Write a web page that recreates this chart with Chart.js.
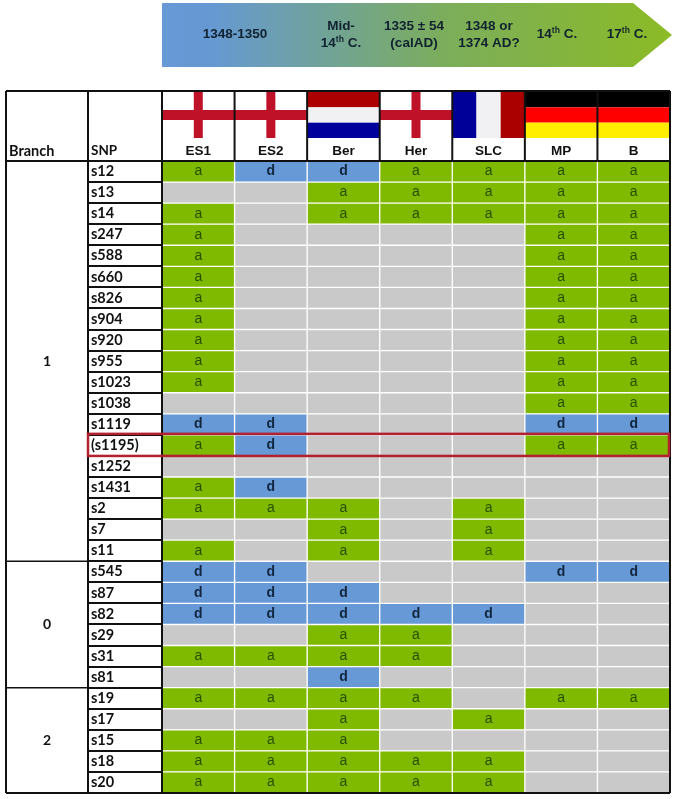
<!DOCTYPE html>
<html>
<head>
<meta charset="utf-8">
<title>SNP table</title>
<script src="https://cdn.jsdelivr.net/npm/chart.js@4"></script>
<style>
  html, body { margin: 0; padding: 0; background: #fff; }
  canvas { display: block; }
</style>
</head>
<body>
<canvas id="snpChart" width="674" height="799"></canvas>
<script>
// Rows and columns of the table
const snps = ['s12','s13','s14','s247','s588','s660','s826','s904','s920','s955','s1023','s1038','s1119','(s1195)','s1252','s1431','s2','s7','s11',
              's545','s87','s82','s29','s31','s81',
              's19','s17','s15','s18','s20'];
const sites = ['ES1','ES2','Ber','Her','SLC','MP','B'];
const branchNames = ['1','0','2'];
const branchSizes = [19, 6, 5];
const highlightedSnp = '(s1195)';

// a = ancestral, d = derived, '' = no call
const es1 = ['a','','a','a','a','a','a','a','a','a','a','','d','a','','a','a','','a', 'd','d','d','','a','', 'a','','a','a','a'];
const es2 = ['d','','','','','','','','','','','','d','d','','d','a','','', 'd','d','d','','a','', 'a','','a','a','a'];
const ber = ['d','a','a','','','','','','','','','','','','','','a','a','a', '','d','d','a','a','d', 'a','a','a','a','a'];
const her = ['a','a','a','','','','','','','','','','','','','','','','', '','','d','a','a','', 'a','','','a','a'];
const slc = ['a','a','a','','','','','','','','','','','','','','a','a','a', '','','d','','','', '','a','','a','a'];
const mp  = ['a','a','a','a','a','a','a','a','a','a','a','a','d','a','','','','','', 'd','','','','','', 'a','','','',''];
const b   = ['a','a','a','a','a','a','a','a','a','a','a','a','d','a','','','','','', 'd','','','','','', 'a','','','',''];
const siteCalls = [es1, es2, ber, her, slc, mp, b];

const siteFlags = ['en','en','nl','en','fr','de','de'];
const eraLabels = [['1348-1350'], ['Mid-','14|th| C.'], ['1335 ± 54','(calAD)'], ['1348 or','1374 AD?'], ['14|th| C.'], ['17|th| C.']];

const eraCenters = [235, 341, 414, 489, 557, 627];
const callColors = { a: '#7fba00', d: '#6699d6', '': '#c9c9c9' };
const labelFont = 'Liberation Sans, Arial, sans-serif';
const tableFont = 'Lato, Carlito, sans-serif';

function drawEraText(ctx, text, cx, y) {
  // pieces split by | : the middle one is a superscript
  const parts = text.split('|');
  const big = 'bold 13.5px ' + labelFont, small = 'bold 8.5px ' + labelFont;
  ctx.font = big;
  let w = ctx.measureText(parts[0]).width;
  if (parts.length > 1) {
    w += ctx.measureText(parts[2]).width;
    ctx.font = small;
    w += ctx.measureText(parts[1]).width;
  }
  let x = cx - w / 2;
  ctx.textAlign = 'left';
  ctx.textBaseline = 'middle';
  ctx.fillStyle = '#10222f';
  ctx.font = big;
  ctx.fillText(parts[0], x, y);
  if (parts.length > 1) {
    x += ctx.measureText(parts[0]).width;
    ctx.font = small;
    ctx.fillText(parts[1], x, y - 3.5);
    x += ctx.measureText(parts[1]).width;
    ctx.font = big;
    ctx.fillText(parts[2], x, y);
  }
}

function drawFlag(ctx, kind, x, y, w, h) {
  const band3 = (c1, c2, c3) => {
    ctx.fillStyle = c1; ctx.fillRect(x, y, w, h / 3);
    ctx.fillStyle = c2; ctx.fillRect(x, y + h / 3, w, h / 3);
    ctx.fillStyle = c3; ctx.fillRect(x, y + 2 * h / 3, w, h / 3);
  };
  if (kind === 'en') {
    ctx.fillStyle = '#bf1229';
    ctx.fillRect(x, y + 18, w, 10);
    ctx.fillRect(x + w / 2 - 4.5, y, 9, h);
  } else if (kind === 'nl') {
    band3('#ad0000', '#f1f1f3', '#00009c');
  } else if (kind === 'de') {
    band3('#000000', '#ff0000', '#ffee00');
  } else {
    ctx.fillStyle = '#000099'; ctx.fillRect(x, y, w / 3, h);
    ctx.fillStyle = '#f1f1f3'; ctx.fillRect(x + w / 3, y, w / 3, h);
    ctx.fillStyle = '#aa0000'; ctx.fillRect(x + 2 * w / 3, y, w / 3, h);
  }
}

// Arrow and flags go under the table
const headerArt = {
  id: 'headerArt',
  beforeDraw(chart) {
    const { ctx, chartArea: area, scales } = chart;
    ctx.save();
    const grad = ctx.createLinearGradient(area.left, 0, 672, 0);
    grad.addColorStop(0, '#6699d6');
    grad.addColorStop(0.1, '#6699d2');
    grad.addColorStop(0.55, '#7cad5c');
    grad.addColorStop(1, '#8bbb25');
    ctx.beginPath();
    ctx.moveTo(area.left, 3);
    ctx.lineTo(633, 3);
    ctx.lineTo(672, 35);
    ctx.lineTo(633, 67);
    ctx.lineTo(area.left, 67);
    ctx.closePath();
    ctx.fillStyle = grad;
    ctx.fill();
    eraLabels.forEach((lines, i) => {
      const top = 34.5 - (lines.length - 1) * 8.5;
      lines.forEach((line, j) => drawEraText(ctx, line, eraCenters[i], top + j * 17));
    });
    const bandW = (area.right - area.left) / sites.length;
    siteFlags.forEach((kind, i) => {
      const cx = scales.xTop.getPixelForValue(i);
      drawFlag(ctx, kind, cx - bandW / 2, 92, bandW, 46);
    });
    ctx.restore();
  }
};

// The a / d letter in each coloured cell
const cellLetters = {
  id: 'cellLetters',
  afterDatasetsDraw(chart) {
    const { ctx } = chart;
    ctx.save();
    ctx.textAlign = 'center';
    ctx.textBaseline = 'middle';
    siteCalls.forEach((calls, s) => {
      const bars = chart.getDatasetMeta(s).data;
      calls.forEach((call, r) => {
        if (!call) return;
        const c = bars[r].getCenterPoint();
        ctx.font = call === 'd' ? 'bold 14px ' + labelFont : '14px ' + labelFont;
        ctx.fillStyle = call === 'd' ? '#12263f' : '#264f00';
        ctx.fillText(call, c.x, c.y);
      });
    });
    ctx.restore();
  }
};

// Black rules, branch column and the red highlight
const tableRules = {
  id: 'tableRules',
  afterDraw(chart) {
    const { ctx, chartArea: area, scales } = chart;
    const y = scales.y, xTop = scales.xTop;
    const rowH = (area.bottom - area.top) / snps.length;
    const bandW = (area.right - area.left) / sites.length;
    const tableLeft = 6, tableTop = 91, snpLeft = y.left - 3;
    ctx.save();
    ctx.strokeStyle = '#111';
    ctx.lineWidth = 2;
    const line = (x1, y1, x2, y2) => {
      ctx.beginPath(); ctx.moveTo(x1, y1); ctx.lineTo(x2, y2); ctx.stroke();
    };
    line(tableLeft, tableTop, area.right, tableTop);
    line(tableLeft, tableTop, tableLeft, area.bottom);
    line(area.right, tableTop, area.right, area.bottom);
    line(tableLeft, area.bottom, area.right, area.bottom);
    line(tableLeft, area.top, area.right, area.top);
    line(snpLeft, tableTop, snpLeft, area.bottom);
    line(area.left, tableTop, area.left, area.bottom);
    sites.forEach((s, i) => {
      if (i === 0) return;
      const x = xTop.getPixelForValue(i) - bandW / 2;
      line(x, tableTop, x, area.top);
    });

    // branch groups
    let start = 0;
    ctx.font = 'bold 14px ' + tableFont;
    ctx.fillStyle = '#111';
    ctx.textAlign = 'center';
    ctx.textBaseline = 'middle';
    branchNames.forEach((name, i) => {
      const mid = y.getPixelForValue(start) - rowH / 2 + branchSizes[i] * rowH / 2;
      ctx.fillText(name, (tableLeft + snpLeft) / 2, mid);
      start += branchSizes[i];
      if (i < branchNames.length - 1) {
        const edge = y.getPixelForValue(start) - rowH / 2;
        ctx.lineWidth = 1.5;
        line(tableLeft, edge, snpLeft, edge);
        ctx.lineWidth = 2;
      }
    });

    // column title of the left two columns
    ctx.textAlign = 'left';
    ctx.textBaseline = 'alphabetic';
    ctx.font = 'bold 14.5px ' + tableFont;
    ctx.fillText('Branch', 9, 156);
    ctx.font = 'bold 13.5px ' + tableFont;
    ctx.fillText('SNP', 91, 155);

    // red box
    const hy = y.getPixelForValue(snps.indexOf(highlightedSnp));
    ctx.strokeStyle = '#b3202f';
    ctx.lineWidth = 2.5;
    ctx.strokeRect(snpLeft, hy - rowH / 2 - 1, area.right - snpLeft - 1, rowH + 1);
    ctx.restore();
  }
};

new Chart(document.getElementById('snpChart'), {
  type: 'bar',
  data: {
    labels: snps,
    datasets: siteCalls.map((calls, i) => ({
      label: sites[i],
      data: calls.map(() => 1),
      backgroundColor: calls.map(call => callColors[call]),
      borderColor: '#fff',
      borderWidth: 1,
      borderSkipped: false,
      barPercentage: 1,
      categoryPercentage: 1,
      xAxisID: 'x',
      yAxisID: 'y'
    }))
  },
  options: {
    indexAxis: 'y',
    responsive: false,
    animation: false,
    layout: { padding: { left: 91, top: 91, right: 4, bottom: 6 } },
    plugins: { legend: { display: false }, tooltip: { enabled: false } },
    scales: {
      x: { type: 'linear', stacked: true, min: 0, max: sites.length, display: false },
      xTop: {
        type: 'category',
        axis: 'x',
        position: 'top',
        labels: sites,
        offset: true,
        grid: { display: false },
        border: { display: false },
        ticks: { color: '#111', padding: -6, maxRotation: 0, font: { family: labelFont, weight: 'bold', size: 13.5 } },
        afterFit(scale) { scale.height = 70; }
      },
      y: {
        type: 'category',
        stacked: true,
        labels: snps,
        grid: { drawOnChartArea: false, color: '#111', lineWidth: 2, tickLength: 74 },
        border: { display: false },
        ticks: {
          autoSkip: false,
          crossAlign: 'far',
          color: '#111',
          font: { family: tableFont, weight: 'bold', size: 14.5 }
        },
        afterFit(scale) {
          scale.width = 71;
          scale.paddingTop = 0;
          scale.paddingBottom = 0;
        }
      }
    }
  },
  plugins: [headerArt, cellLetters, tableRules]
});
</script>
</body>
</html>
